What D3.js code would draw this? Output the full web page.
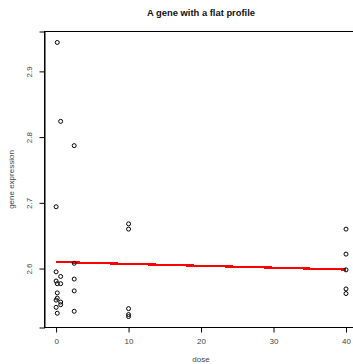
<!DOCTYPE html>
<html><head><meta charset="utf-8">
<script src="https://cdn.jsdelivr.net/npm/d3@7"></script>
<style>body{margin:0;background:#fff}svg{display:block}text{font-family:"Liberation Sans",Arial,sans-serif}</style>
</head><body>
<script>
const doses = [0,0,0,0,0, 0.16,0.16,0.16,0.16,0.16, 0.63,0.63,0.63,0.63,0.63, 2.5,2.5,2.5,2.5,2.5, 10,10,10,10,10, 40,40,40,40,40];
const expression = [2.694,2.595,2.581,2.552,2.541, 2.944,2.577,2.563,2.555,2.532, 2.824,2.588,2.577,2.549,2.545, 2.787,2.608,2.584,2.566,2.535, 2.668,2.660,2.539,2.530,2.527, 2.660,2.622,2.598,2.569,2.562];
const fitX = [0, 10, 20, 30, 40];
const fitY = [2.6100, 2.6071, 2.6042, 2.6014, 2.5985];
const xTicks = [0, 10, 20, 30, 40];
const yTicks = [2.6, 2.7, 2.8, 2.9];
const title = "A gene with a flat profile";
const xLabel = "dose", yLabel = "gene expression";

const W = 353, H = 364;
const L = 44.5, R = 357.6, T = 31.5, B = 327.5;
const pad = (ext) => { const d = (ext[1]-ext[0])*0.04; return [ext[0]-d, ext[1]+d]; };
const x = d3.scaleLinear().domain(pad(d3.extent(doses))).range([L, R]);
const y = d3.scaleLinear().domain(pad(d3.extent(expression))).range([B, T]);

const svg = d3.select("body").append("svg").attr("width", W).attr("height", H);

// fitted line
svg.append("path")
  .datum(fitX.map((d,i)=>[d, fitY[i]]))
  .attr("fill","none").attr("stroke","#ff0000").attr("stroke-width",2.2)
  .attr("shape-rendering","crispEdges")
  .attr("d", d3.line().x(d=>x(d[0])).y(d=>y(d[1])));

// points
svg.append("g").selectAll("circle").data(doses).join("circle")
  .attr("cx", (d)=>x(d)).attr("cy", (d,i)=>y(expression[i])).attr("r", 2)
  .attr("fill","none").attr("stroke","#000").attr("stroke-width",1);

// box
svg.append("rect").attr("x",L).attr("y",T).attr("width",R-L).attr("height",B-T)
  .attr("fill","none").attr("stroke","#000").attr("stroke-width",1);

// axes
const xa = svg.append("g").attr("transform",`translate(0,${B})`)
  .call(d3.axisBottom(x).tickValues(xTicks).tickSize(5).tickPadding(6).tickFormat(d3.format("d")));
const ya = svg.append("g").attr("transform",`translate(${L},0)`)
  .call(d3.axisLeft(y).tickValues(yTicks).tickSize(5).tickFormat(d3.format(".1f")));
[xa, ya].forEach(g => {
  g.select(".domain").attr("stroke","#000");
  g.selectAll(".tick line").attr("stroke","#000");
  g.selectAll(".tick text").attr("fill","#444").style("font-size","8px").style("font-family",'"Liberation Sans",Arial,sans-serif');
});
xa.select(".domain").attr("d", `M${x(xTicks[0])},0H${x(xTicks[xTicks.length-1])}`);
ya.selectAll(".tick text")
  .attr("x", null).attr("dy", null)
  .attr("transform", "translate(-14.5,0) rotate(-90)")
  .attr("text-anchor","middle").attr("dominant-baseline","middle");

// title & labels
svg.append("text").attr("x",(L+R)/2).attr("y",16).attr("text-anchor","middle")
  .style("font-size","9.4px").style("font-weight","bold").attr("fill","#111").text(title);
svg.append("text").attr("x",(L+R)/2).attr("y",362).attr("text-anchor","middle")
  .style("font-size","8px").attr("fill","#444").text(xLabel);
svg.append("text").attr("transform",`translate(14,${(T+B)/2}) rotate(-90)`).attr("text-anchor","middle")
  .style("font-size","8px").attr("fill","#444").text(yLabel);
</script>
</body></html>
